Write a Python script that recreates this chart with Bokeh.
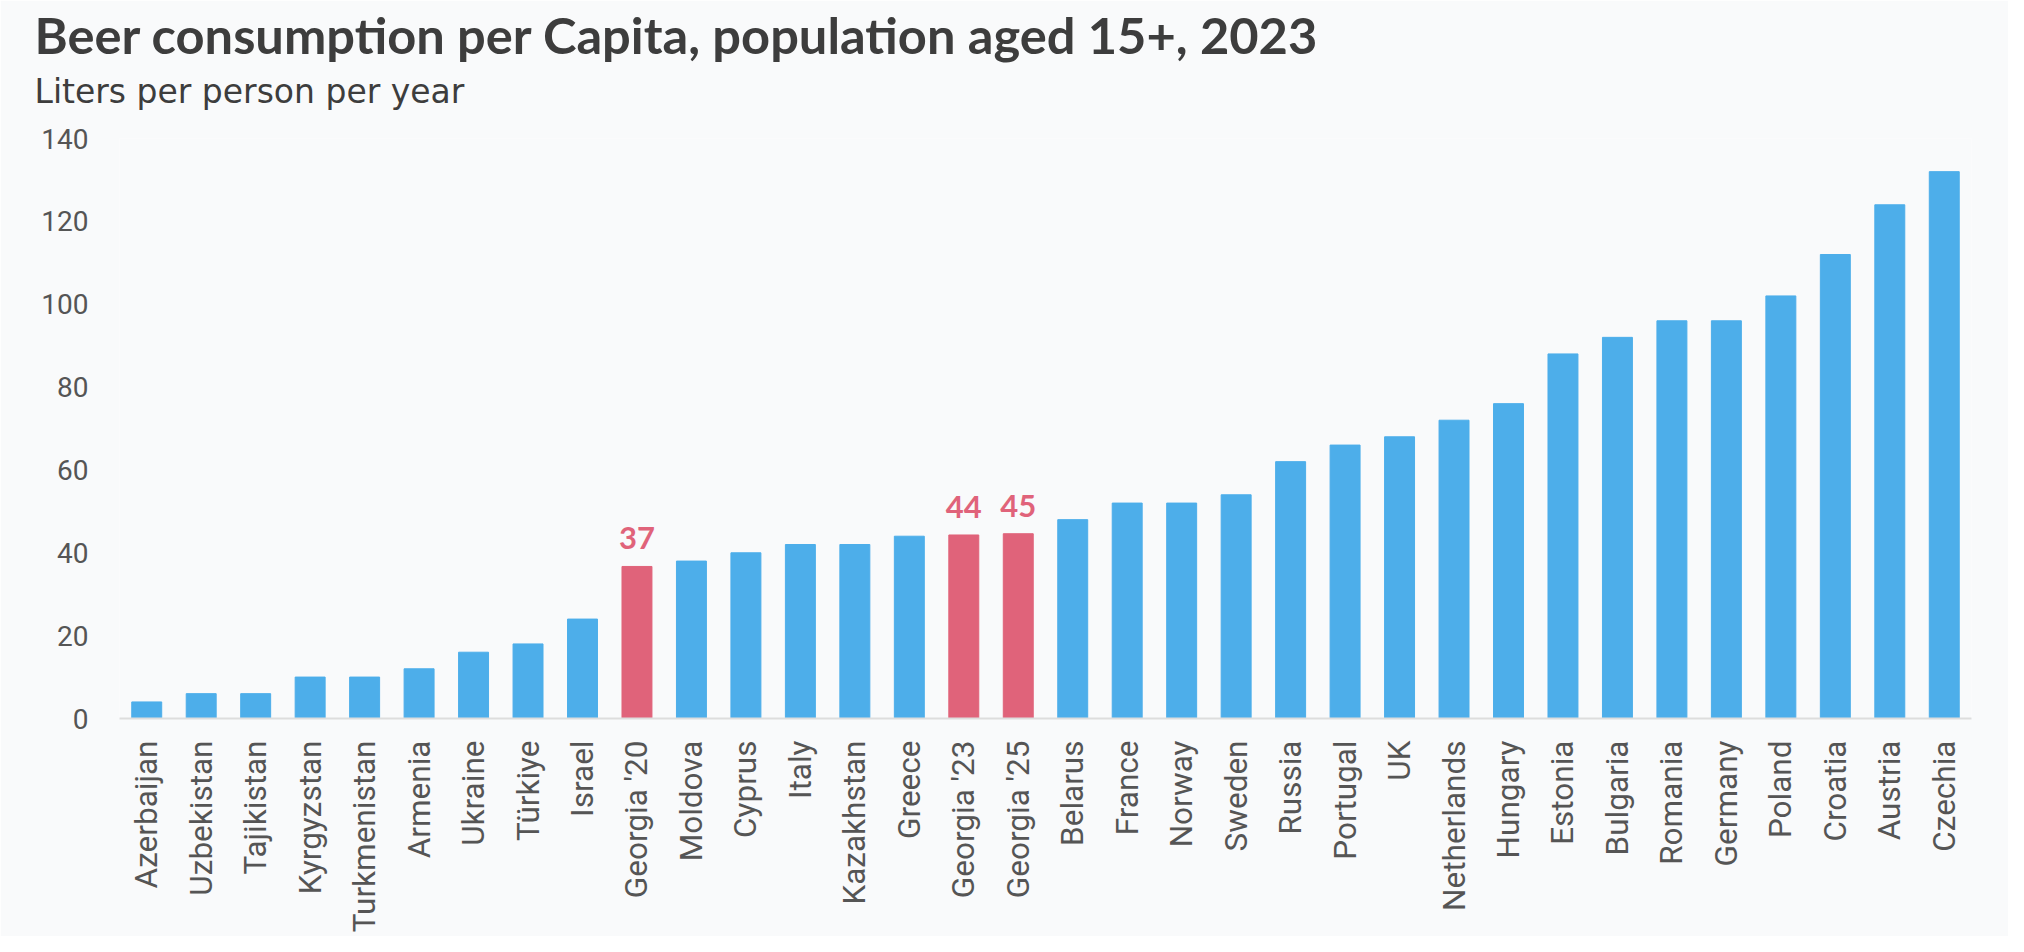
from bokeh.plotting import figure
from bokeh.models import ColumnDataSource, FactorRange, Range1d, FixedTicker, Title
from bokeh.core.properties import value
from bokeh.embed import file_html
from bokeh.resources import INLINE
import math

countries = ["Azerbaijan", "Uzbekistan", "Tajikistan", "Kyrgyzstan", "Turkmenistan", "Armenia",
             "Ukraine", "Türkiye", "Israel", "Georgia '20", "Moldova", "Cyprus", "Italy",
             "Kazakhstan", "Greece", "Georgia '23", "Georgia '25", "Belarus", "France", "Norway",
             "Sweden", "Russia", "Portugal", "UK", "Netherlands", "Hungary", "Estonia", "Bulgaria",
             "Romania", "Germany", "Poland", "Croatia", "Austria", "Czechia"]
liters = [4, 6, 6, 10, 10, 12, 16, 18, 24, 36.7, 38, 40, 42, 42, 44, 44.3, 44.6, 48, 52, 52,
          54, 62, 66, 68, 72, 76, 88, 92, 96, 96, 102, 112, 124, 132]
highlighted = ["Georgia '20", "Georgia '23", "Georgia '25"]
highlight_labels = ["37", "44", "45"]
y_ticks = [0, 20, 40, 60, 80, 100, 120, 140]

BLUE = "#4DAEEA"
RED = "#E0637A"
BG = "#F9FAFB"

colors = [RED if c in highlighted else BLUE for c in countries]
src = ColumnDataSource(dict(x=countries, top=liters, color=colors))
hl_vals = [liters[countries.index(c)] for c in highlighted]
hl_src = ColumnDataSource(dict(x=highlighted, y=hl_vals, t=highlight_labels))

p = figure(width=2008, height=936, x_range=FactorRange(*countries, range_padding=0),
           y_range=Range1d(0, 140), output_backend="svg", toolbar_location=None, title=None,
           min_border_left=119, min_border_right=37, min_border_top=138, min_border_bottom=218)
p.background_fill_color = BG
p.border_fill_color = BG
p.outline_line_color = None
p.grid.visible = False

p.vbar(x="x", top="top", width=0.55, color="color", source=src)
p.text(x="x", y="y", text="t", source=hl_src, text_align="center", text_baseline="alphabetic",
       y_offset=-28, text_font=value("Lato"), text_font_style="bold", text_font_size="31px",
       text_color=RED)

xa = p.xaxis[0]
xa.major_label_orientation = math.pi / 2
xa.axis_line_color = "#DDDDDD"
xa.axis_line_width = 2
xa.major_tick_line_color = None
xa.minor_tick_line_color = None
xa.major_tick_out = 0
xa.major_label_standoff = 22
xa.major_label_text_font = "Roboto"
xa.major_label_text_font_size = "31.5px"
xa.major_label_text_color = "#555555"

ya = p.yaxis[0]
ya.ticker = FixedTicker(ticks=y_ticks)
ya.axis_line_color = None
ya.major_tick_line_color = None
ya.minor_tick_line_color = None
ya.major_tick_out = 0
ya.major_label_standoff = 31
ya.major_label_text_font = "Roboto"
ya.major_label_text_font_size = "28px"
ya.major_label_text_color = "#555555"

p.add_layout(Title(text="Liters per person per year", align="left", offset=-85, standoff=55,
                   text_font="DejaVu Sans", text_font_style="normal", text_font_size="33px",
                   text_color="#3D3D3D"), "above")
p.add_layout(Title(text="Beer consumption per Capita, population aged 15+, 2023", align="left",
                   offset=-85, standoff=-44, text_font="Lato", text_font_style="bold",
                   text_font_size="50.6px", text_color="#3D3D3D"), "above")

open("out.html", "w").write(file_html(p, INLINE))
